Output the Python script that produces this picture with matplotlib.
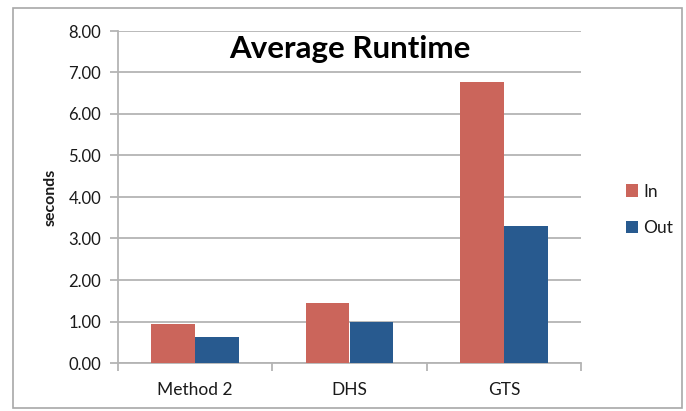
import matplotlib
matplotlib.use("Agg")
import matplotlib.pyplot as plt
import numpy as np
from matplotlib.patches import Rectangle, Patch

# Runtime data (seconds)
categories = ["Method 2", "DHS", "GTS"]
series_names = ["In", "Out"]
in_values = [0.95, 1.45, 6.77]
out_values = [0.62, 0.98, 3.31]
y_ticks = [0, 1, 2, 3, 4, 5, 6, 7, 8]

red = "#CB655B"
blue = "#285A8F"
grid_gray = "#B4B4B4"
text_col = "#1A1A1A"

plt.rcParams["font.family"] = ["Lato", "DejaVu Sans"]

W, H = 686, 411
fig = plt.figure(figsize=(W / 100, H / 100), dpi=100)

# outer chart frame
fig.patches.append(Rectangle((13 / W, 1 - 408 / H), (682 - 13) / W, (408 - 8) / H,
                             transform=fig.transFigure, fill=False,
                             edgecolor="#A8A8A8", linewidth=1.2))

left, right, top, bottom = 118, 581, 31, 363
ax = fig.add_axes([left / W, 1 - bottom / H, (right - left) / W, (bottom - top) / H])

x = np.arange(len(categories))
bw = 0.284
ax.bar(x - bw / 2, in_values, bw, color=red, label=series_names[0], zorder=3)
ax.bar(x + bw / 2, out_values, bw, color=blue, label=series_names[1], zorder=3)

ax.set_xlim(-0.5, len(categories) - 0.5)
ax.set_ylim(0, 8)
ax.set_yticks(y_ticks)
ax.set_yticklabels([f"{v:.2f}" for v in y_ticks], fontsize=12, color=text_col)
ax.yaxis.grid(True, color=grid_gray, linewidth=1.3, zorder=0)
ax.set_axisbelow(True)

# category labels centered, tick marks at category boundaries
ax.set_xticks(x)
ax.set_xticklabels(categories, fontsize=12.5, color=text_col)
ax.tick_params(axis="x", length=0, pad=14)
ax.set_xticks(np.arange(len(categories) + 1) - 0.5, minor=True)
ax.tick_params(axis="x", which="minor", length=6, width=1.3, color=grid_gray)
ax.tick_params(axis="y", length=6, width=1.3, color=grid_gray, pad=6)

for s in ["top", "right"]:
    ax.spines[s].set_visible(False)
for s in ["left", "bottom"]:
    ax.spines[s].set_color(grid_gray)
    ax.spines[s].set_linewidth(1.3)

ax.set_ylabel("seconds", fontsize=11.5, fontweight="bold", color=text_col)
ax.yaxis.set_label_coords((58 - left) / (right - left), 0.5)

ax.text(0.5, 1 - (49 - top) / (bottom - top), "Average Runtime", transform=ax.transAxes,
        ha="center", va="center", fontsize=22.5, fontweight="bold", color="black")

handles = [Patch(facecolor=red), Patch(facecolor=blue)]
fig.legend(handles, series_names, loc="center left",
           bbox_to_anchor=(610 / W, 1 - 210 / H), frameon=False,
           fontsize=12.5, handlelength=0.7, handleheight=0.7,
           handletextpad=0.3, labelspacing=1.2, labelcolor=text_col)

fig.savefig("out.png", dpi=100)
